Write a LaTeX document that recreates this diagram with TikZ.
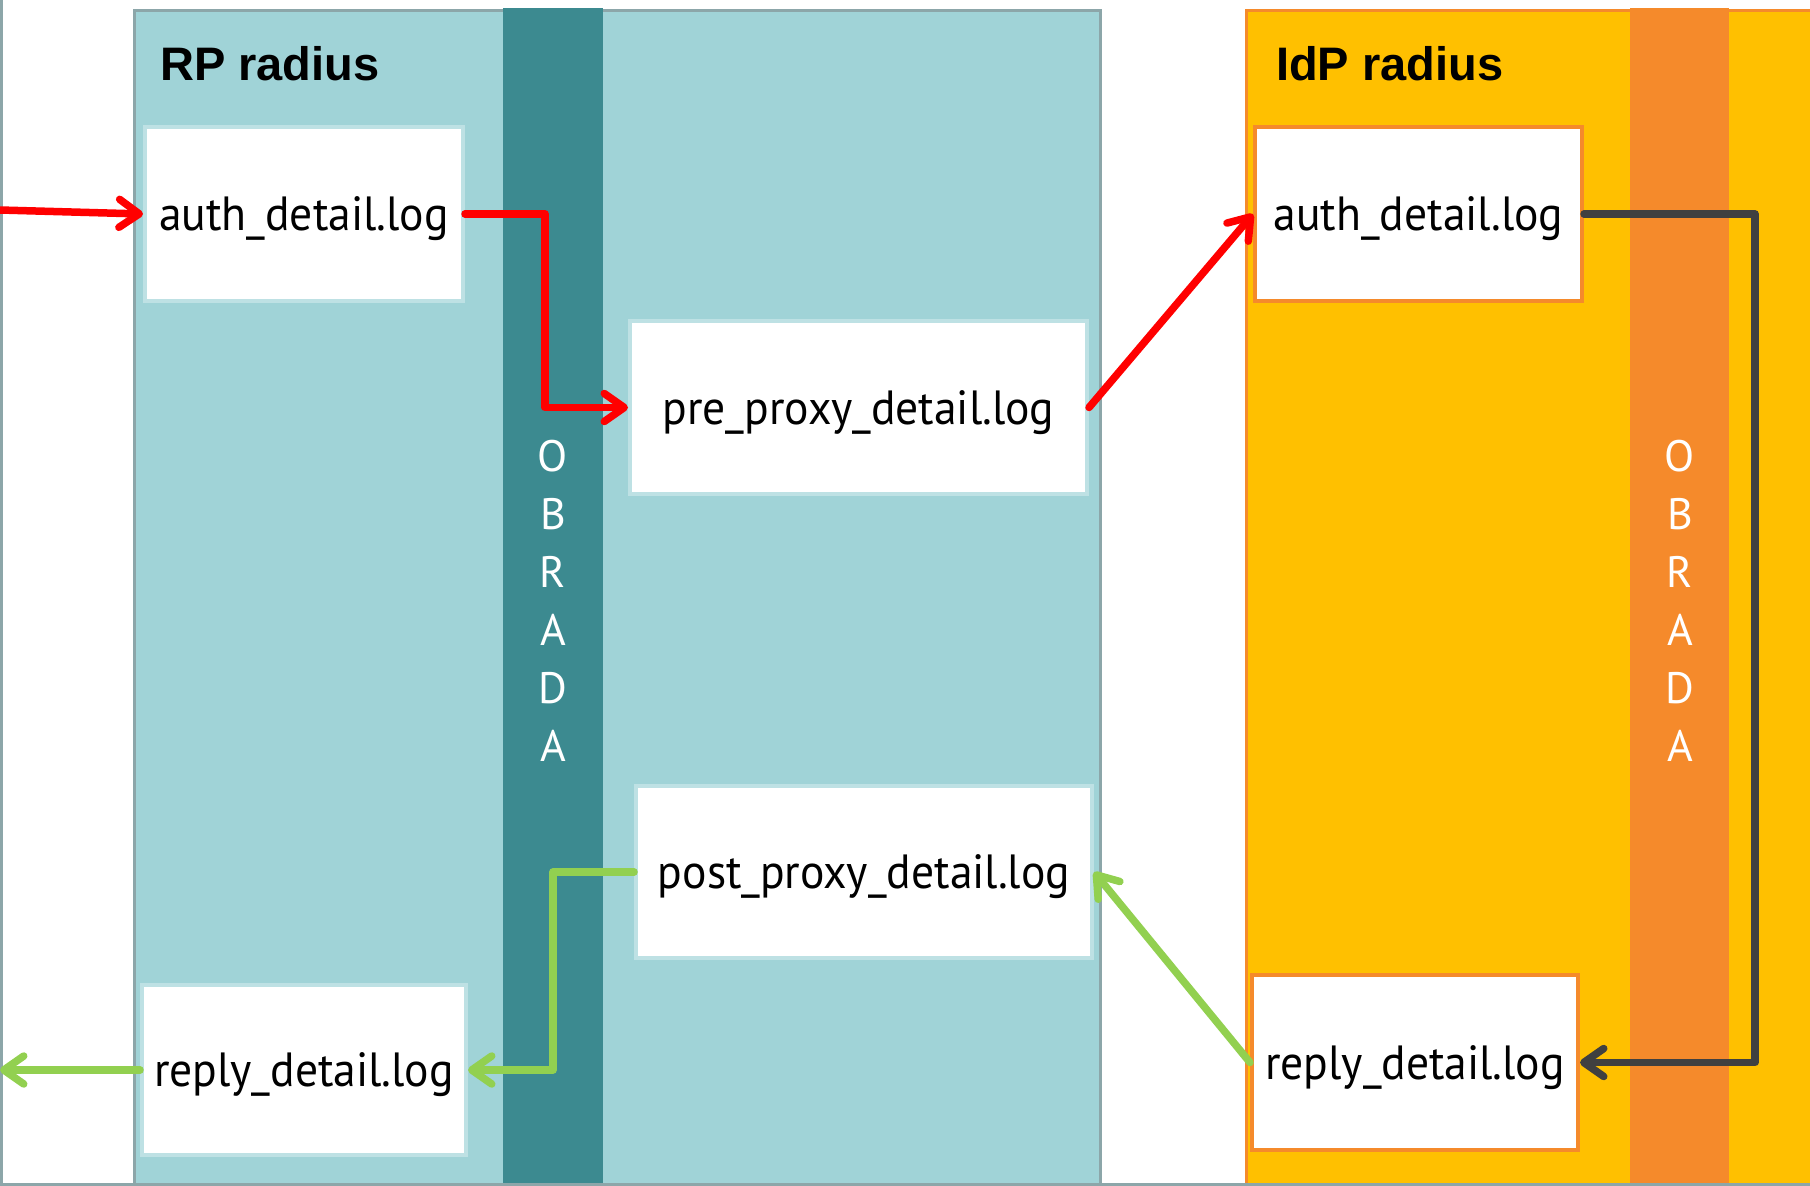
\documentclass[tikz,border=0pt]{standalone}
\usepackage{fontspec}
\setmainfont{Liberation Sans}
\newfontfamily\lblfont[FakeStretch=0.95]{PT Sans}
\newfontfamily\stagefont{PT Sans}
\usetikzlibrary{arrows.meta}

\definecolor{rpfill}{HTML}{A0D3D7}
\definecolor{rpband}{HTML}{3C8A90}
\definecolor{rpedge}{HTML}{8CA6A9}
\definecolor{rpbox}{HTML}{BEE1E4}
\definecolor{idpfill}{HTML}{FFC000}
\definecolor{idpedge}{HTML}{F58A2B}
\definecolor{flowred}{HTML}{FF0000}
\definecolor{flowgray}{HTML}{404040}
\definecolor{flowgreen}{HTML}{92D050}

\tikzset{
  logbox/.style={draw, fill=white, line width=4pt, align=center,
    font=\lblfont\fontsize{48}{56}\selectfont, inner sep=0pt,
    text height=44pt, text depth=11pt},
  rplog/.style={logbox, draw=rpbox},
  idplog/.style={logbox, draw=idpedge},
  title/.style={anchor=base west, inner sep=0pt,
    font=\bfseries\fontsize{47}{56}\selectfont},
  stagelabel/.style={text=white, align=center, inner sep=0pt,
    font=\stagefont\fontsize{44}{58}\selectfont},
  flow/.style={line width=7.5pt, line cap=round, line join=round,
    -{Straight Barb[length=20pt,width=28pt,line cap=round,line join=round]}},
  redflow/.style={flow, draw=flowred},
  grayflow/.style={flow, draw=flowgray},
  greenflow/.style={flow, draw=flowgreen}
}

\begin{document}
\begin{tikzpicture}[x=1pt,y=-1pt]
  \useasboundingbox (0,0) rectangle (1810,1186);

  % RP radius server
  \fill[rpfill] (134,10) rectangle (1100,1184);
  \draw[rpedge, line width=3pt] (134,1186) -- (134,10) -- (1100,10) -- (1100,1186);
  \fill[rpband] (503,8) rectangle (603,1186);

  % IdP radius server
  \fill[idpfill] (1246,10) rectangle (1815,1184);
  \draw[idpedge, line width=3pt] (1246,1186) -- (1246,10) -- (1815,10);
  \fill[idpedge] (1630,8) rectangle (1729,1186);

  % page frame
  \draw[rpedge, line width=3pt] (1.5,0) -- (1.5,1184.5) -- (1810,1184.5);

  % titles
  \node[title] (rptitle) at (160,80) {RP radius};
  \node[title] (idptitle) at (1276,80) {IdP radius};

  % processing stages
  \node[stagelabel] (rpstage) at (553,601) {O\\B\\R\\A\\D\\A};
  \node[stagelabel] (idpstage) at (1680,601) {O\\B\\R\\A\\D\\A};

  % log files
  \node[rplog, minimum width=318pt, minimum height=174pt] (rpauth) at (304,214) {auth\_detail.log};
  \node[rplog, minimum width=457pt, minimum height=173pt] (prep) at (858.5,407.5) {pre\_proxy\_detail.log};
  \node[rplog, minimum width=456pt, minimum height=172pt] (postp) at (864,872) {post\_proxy\_detail.log};
  \node[rplog, minimum width=324pt, minimum height=170pt] (rprep) at (304,1070) {reply\_detail.log};
  \node[idplog, minimum width=327pt, minimum height=174pt] (idpauth) at (1418.5,214) {auth\_detail.log};
  \node[idplog, minimum width=326pt, minimum height=175pt] (idprep) at (1415,1062.5) {reply\_detail.log};

  % turning points and free ends
  \coordinate (inL) at (0,210);
  \coordinate (outL) at (0,1070);
  \coordinate (redx) at (545,0);
  \coordinate (grayx) at (1755,0);
  \coordinate (greenx) at (553,0);

  % request path
  \draw[redflow] (inL) -- (rpauth.west);
  \draw[redflow] (rpauth.east) -| (redx |- prep.west) -- (prep.west);
  \draw[redflow] (prep.east) -- (idpauth.west);
  \draw[grayflow] (idpauth.east) -- (grayx |- idpauth.east) |- (idprep.east);

  % reply path
  \draw[greenflow] (idprep.west) -- (postp.east);
  \draw[greenflow] (postp.west) -| (greenx |- rprep.east) -- (rprep.east);
  \draw[greenflow] (rprep.west) -- (outL);
\end{tikzpicture}
\end{document}
